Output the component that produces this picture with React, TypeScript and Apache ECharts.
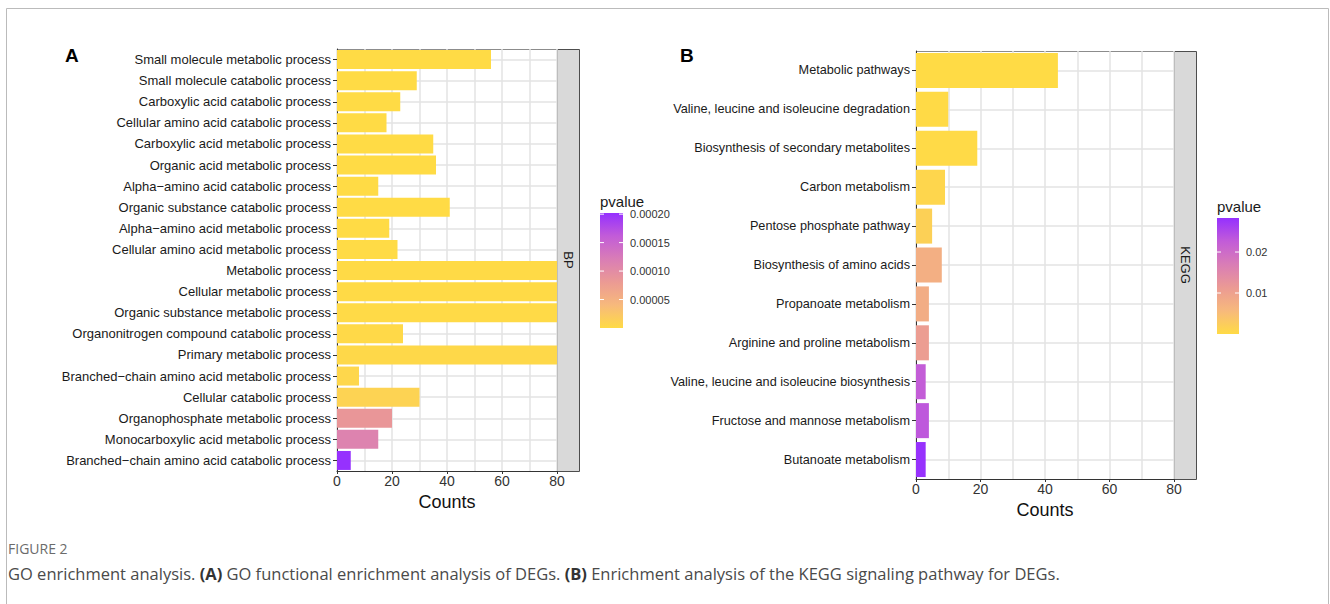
import React, { useEffect, useRef } from "react";
import * as echarts from "echarts";

// GO biological-process terms (top to bottom)
const goTerms = [
  "Small molecule metabolic process",
  "Small molecule catabolic process",
  "Carboxylic acid catabolic process",
  "Cellular amino acid catabolic process",
  "Carboxylic acid metabolic process",
  "Organic acid metabolic process",
  "Alpha\u2212amino acid catabolic process",
  "Organic substance catabolic process",
  "Alpha\u2212amino acid metabolic process",
  "Cellular amino acid metabolic process",
  "Metabolic process",
  "Cellular metabolic process",
  "Organic substance metabolic process",
  "Organonitrogen compound catabolic process",
  "Primary metabolic process",
  "Branched\u2212chain amino acid metabolic process",
  "Cellular catabolic process",
  "Organophosphate metabolic process",
  "Monocarboxylic acid metabolic process",
  "Branched\u2212chain amino acid catabolic process",
];
const goCounts = [56, 29, 23, 18, 35, 36, 15, 41, 19, 22, 187, 163, 172, 24, 155, 8, 30, 20, 15, 5];
const goPvalues = [
  1e-9, 3e-9, 5e-9, 8e-9, 2e-8, 4e-8, 6e-8, 9e-8, 2e-7, 4e-7,
  6e-7, 9e-7, 1.2e-6, 2e-6, 3e-6, 5e-6, 1.0e-5, 8.6e-5, 1.13e-4, 2.01e-4,
];
const goPRange = [0, 0.000202];
const goPTicks = [0.00005, 0.0001, 0.00015, 0.0002];
const goPTickLabels = ["0.00005", "0.00010", "0.00015", "0.00020"];

// KEGG pathways (top to bottom)
const keggTerms = [
  "Metabolic pathways",
  "Valine, leucine and isoleucine degradation",
  "Biosynthesis of secondary metabolites",
  "Carbon metabolism",
  "Pentose phosphate pathway",
  "Biosynthesis of amino acids",
  "Propanoate metabolism",
  "Arginine and proline metabolism",
  "Valine, leucine and isoleucine biosynthesis",
  "Fructose and mannose metabolism",
  "Butanoate metabolism",
];
const keggCounts = [44, 10, 19, 9, 5, 8, 4, 4, 3, 4, 3];
const keggPvalues = [0.00005, 0.0001, 0.0002, 0.0008, 0.0018, 0.0074, 0.0079, 0.0108, 0.0225, 0.0232, 0.028];
const keggPRange = [0, 0.0283];
const keggPTicks = [0.01, 0.02];
const keggPTickLabels = ["0.01", "0.02"];

const countMax = 80;
const countInterval = 20;

const panelTitles = ["A", "B"];
const stripTitles = ["BP", "KEGG"];
const axisTitle = "Counts";
const legendTitle = "pvalue";
const figureLabel = "FIGURE 2";
const captionText =
  "GO enrichment analysis. {b|(A)} GO functional enrichment analysis of DEGs. {b|(B)} Enrichment analysis of the KEGG signaling pathway for DEGs.";

// low p (yellow) -> high p (purple)
const ramp = ["#FFDB45", "#F7B97C", "#EB9A94", "#D97DB6", "#C25CD8", "#9530FF"];

const FONT = "'Liberation Sans', Arial, Helvetica, sans-serif";
const CAPTION_FONT = "'Open Sans', sans-serif";
const GRID_COLOR = "#E3E3E3";

const panels = [
  { grid: { left: 337, top: 49, width: 220, height: 422 }, terms: goTerms, counts: goCounts, pv: goPvalues, range: goPRange, ticks: goPTicks, tickLabels: goPTickLabels, bar: { x: 600, y: 213, w: 23, h: 115 }, letter: { x: 65, y: 55 }, nameGap: 22, labelSize: 13 },
  { grid: { left: 916, top: 51, width: 258, height: 428 }, terms: keggTerms, counts: keggCounts, pv: keggPvalues, range: keggPRange, ticks: keggPTicks, tickLabels: keggPTickLabels, bar: { x: 1217, y: 218, w: 22, h: 116 }, letter: { x: 680, y: 55 }, nameGap: 22, labelSize: 12.7 },
];

function buildOption() {
  const grids: any[] = [];
  const xAxes: any[] = [];
  const yAxes: any[] = [];
  const series: any[] = [];
  const visualMaps: any[] = [];
  const graphics: any[] = [];

  // outer figure frame
  graphics.push({
    type: "rect",
    shape: { x: 6.5, y: 8.5, width: 1322, height: 640 },
    style: { fill: "none", stroke: "#BBBBBB", lineWidth: 1 },
    silent: true,
  });

  panels.forEach((p, i) => {
    const g = p.grid;
    grids.push({ left: g.left, top: g.top, width: g.width, height: g.height, containLabel: false });

    xAxes.push({
      type: "value",
      gridIndex: i,
      min: 0,
      max: countMax,
      interval: countInterval,
      axisLine: { show: true, lineStyle: { color: "#333", width: 1 } },
      axisTick: { show: true, length: 3, lineStyle: { color: "#333" } },
      axisLabel: { fontSize: 14, color: "#333", margin: 3, fontFamily: FONT },
      splitLine: { show: true, lineStyle: { color: GRID_COLOR, width: 1.5 } },
      minorTick: { show: false, splitNumber: 2 },
      minorSplitLine: { show: true, lineStyle: { color: GRID_COLOR, width: 1.5 } },
      name: axisTitle,
      nameLocation: "middle",
      nameGap: p.nameGap,
      nameTextStyle: { fontSize: 18, color: "#111", fontFamily: FONT },
    });

    // category axis for labels and bars
    yAxes.push({
      type: "category",
      gridIndex: i,
      data: p.terms,
      inverse: true,
      axisLine: { show: true, lineStyle: { color: "#333", width: 1 } },
      axisTick: { show: true, length: 4, alignWithLabel: true, lineStyle: { color: "#333" } },
      axisLabel: { fontSize: p.labelSize, color: "#1a1a1a", margin: 6, fontFamily: FONT, interval: 0 },
      splitLine: { show: false },
    });
    // helper axis carrying the horizontal grid lines through category centres
    yAxes.push({
      type: "value",
      gridIndex: i,
      position: "right",
      min: 0,
      max: p.terms.length * 2,
      interval: 1,
      axisLine: { show: false },
      axisTick: { show: false },
      axisLabel: { show: false },
      splitLine: { show: true, showMinLine: true, showMaxLine: true, lineStyle: { color: ["rgba(0,0,0,0)", GRID_COLOR], width: 1.5 } },
    });

    series.push({
      type: "bar",
      xAxisIndex: i,
      yAxisIndex: i * 2,
      encode: { x: 0, y: 1 },
      data: p.terms.map((t, k) => [p.counts[k], t, p.pv[k]]),
      barCategoryGap: "10%",
      clip: true,
    });

    visualMaps.push({
      type: "continuous",
      show: false,
      seriesIndex: i,
      dimension: 2,
      min: p.range[0],
      max: p.range[1],
      inRange: { color: ramp },
    });

    // panel letter
    graphics.push({
      type: "text",
      x: p.letter.x,
      y: p.letter.y,
      style: { text: panelTitles[i], font: `bold 19px ${FONT}`, fill: "#000", verticalAlign: "middle" },
    });

    // top edge of the panel
    const right = g.left + g.width;
    graphics.push({
      type: "line",
      shape: { x1: g.left, y1: g.top + 0.5, x2: right + 22, y2: g.top + 0.5 },
      style: { stroke: "#8C8C8C", lineWidth: 1 },
      silent: true,
    });

    // facet strip
    graphics.push({
      type: "rect",
      shape: { x: right + 0.5, y: g.top + 0.5, width: 22, height: g.height },
      style: { fill: "#D9D9D9", stroke: "#4D4D4D", lineWidth: 1 },
      silent: true,
    });
    graphics.push({
      type: "text",
      x: right + 11,
      y: g.top + g.height / 2,
      rotation: -Math.PI / 2,
      style: { text: stripTitles[i], font: `13px ${FONT}`, fill: "#1a1a1a", align: "center", verticalAlign: "middle" },
    });

    // colour bar legend
    const b = p.bar;
    const stops = ramp.map((c, k) => ({ offset: 1 - k / (ramp.length - 1), color: c }));
    graphics.push({
      type: "text",
      x: b.x,
      y: b.y - 4,
      style: { text: legendTitle, font: `15px ${FONT}`, fill: "#1a1a1a", verticalAlign: "bottom" },
    });
    graphics.push({
      type: "rect",
      shape: { x: b.x, y: b.y, width: b.w, height: b.h },
      style: { fill: { type: "linear", x: 0, y: 0, x2: 0, y2: 1, colorStops: stops.slice().reverse() } },
      silent: true,
    });
    p.ticks.forEach((v, k) => {
      const ty = b.y + b.h * (1 - (v - p.range[0]) / (p.range[1] - p.range[0]));
      graphics.push({ type: "line", shape: { x1: b.x, y1: ty, x2: b.x + 4, y2: ty }, style: { stroke: "#fff", lineWidth: 1 } });
      graphics.push({ type: "line", shape: { x1: b.x + b.w - 4, y1: ty, x2: b.x + b.w, y2: ty }, style: { stroke: "#fff", lineWidth: 1 } });
      graphics.push({
        type: "text",
        x: b.x + b.w + 7,
        y: ty,
        style: { text: p.tickLabels[k], font: `11px ${FONT}`, fill: "#333", verticalAlign: "middle" },
      });
    });
  });

  // figure caption
  graphics.push({
    type: "text",
    x: 8,
    y: 548,
    style: { text: figureLabel, font: `14px ${CAPTION_FONT}`, fill: "#6B6B6B", verticalAlign: "middle" },
  });
  graphics.push({
    type: "text",
    x: 8,
    y: 573,
    style: {
      text: captionText,
      font: `16.5px ${CAPTION_FONT}`,
      fill: "#4A4A4A",
      verticalAlign: "middle",
      rich: { b: { fontWeight: "bold", fontSize: 16.5, fontFamily: CAPTION_FONT, fill: "#333" } },
    },
  });

  return {
    animation: false,
    backgroundColor: "#fff",
    textStyle: { fontFamily: FONT },
    grid: grids,
    xAxis: xAxes,
    yAxis: yAxes,
    visualMap: visualMaps,
    series,
    graphic: { elements: graphics },
  };
}

export default function App() {
  const ref = useRef<HTMLDivElement>(null);
  useEffect(() => {
    if (!ref.current) return;
    const chart = echarts.init(ref.current, undefined, { renderer: "svg" });
    chart.setOption(buildOption() as any);
    return () => chart.dispose();
  }, []);
  return <div ref={ref} style={{ position: "absolute", left: 0, top: 0, width: 1330, height: 604 }} />;
}
